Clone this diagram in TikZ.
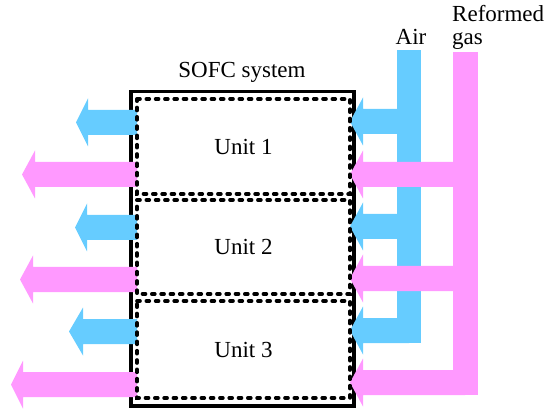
\documentclass[tikz,border=0pt]{standalone}
\usepackage{fontspec}
\setmainfont{Liberation Serif}
\usetikzlibrary{calc}
\definecolor{airblue}{RGB}{102,204,255}
\definecolor{gaspink}{RGB}{255,153,255}
\newcommand\fatarrow[5]{% colour, tail x, tip x, head base x, centre y
  \fill[#1] (#2,#5-12.5) -- (#4,#5-12.5) -- (#4,#5-24) -- (#3,#5)
     -- (#4,#5+24) -- (#4,#5+12.5) -- (#2,#5+12.5) -- cycle;}
\tikzset{
  sysline/.style={draw=black, line width=3.2pt},
  unitline/.style={draw=black, line width=3.6pt, dash pattern=on 3pt off 6.3pt, line cap=round},
  lbl/.style={inner sep=0pt, font=\fontsize{23}{23}\selectfont}
}
\begin{document}
\begin{tikzpicture}[x=1pt,y=-1pt]
\useasboundingbox (0,0) rectangle (549,414);
% outer system box
\coordinate (sysA) at (131,91.5);
\coordinate (sysB) at (354,406);
\draw[sysline] (sysA) rectangle (sysB);
\node[lbl, anchor=base] (systxt) at (242,78) {SOFC system};
% outgoing arrows on the left
\fatarrow{airblue}{137}{76}{88}{122.5}
\fatarrow{gaspink}{137}{22}{35}{174.5}
\fatarrow{airblue}{137}{75}{87}{227.5}
\fatarrow{gaspink}{137}{20}{33}{279.5}
\fatarrow{airblue}{137}{69}{83}{331.5}
\fatarrow{gaspink}{137}{11}{23}{384.5}
% air supply
\fill[airblue] (397,50) rectangle (421,343);
\fatarrow{airblue}{409}{350}{363}{121.5}
\fatarrow{airblue}{409}{350}{363}{226.5}
\fatarrow{airblue}{409}{350}{363}{330.5}
% reformed gas supply
\fill[gaspink] (453,52) rectangle (478,395);
\fatarrow{gaspink}{465}{350}{363}{174.5}
\fatarrow{gaspink}{465}{350}{363}{278.5}
\fatarrow{gaspink}{465}{350}{363}{382.5}
% units
\coordinate (u1a) at (137,99);  \coordinate (u1b) at (350,194);
\coordinate (u2a) at (137,200); \coordinate (u2b) at (350,294);
\coordinate (u3a) at (137,301); \coordinate (u3b) at (350,398);
\draw[unitline] (u1a) -- (u1a -| u1b) -- (u1b) -- (u1a |- u1b) -- cycle;
\draw[unitline] (u2a) -- (u2a -| u2b) -- (u2b) -- (u2a |- u2b) -- cycle;
\draw[unitline] (u3a) -- (u3a -| u3b) -- (u3b) -- (u3a |- u3b) -- cycle;
\node[lbl] (u1) at ($(u1a)!0.5!(u1b)$) {Unit 1};
\node[lbl] (u2) at ($(u2a)!0.5!(u2b)$) {Unit 2};
\node[lbl] (u3) at ($(u3a)!0.5!(u3b)$) {Unit 3};
% labels
\node[lbl, anchor=base] (air) at (411,45) {Air};
\node[lbl, anchor=base west] (ref) at (452,22) {Reformed};
\node[lbl, anchor=base west] (gas) at (452,45) {gas};
\end{tikzpicture}
\end{document}
